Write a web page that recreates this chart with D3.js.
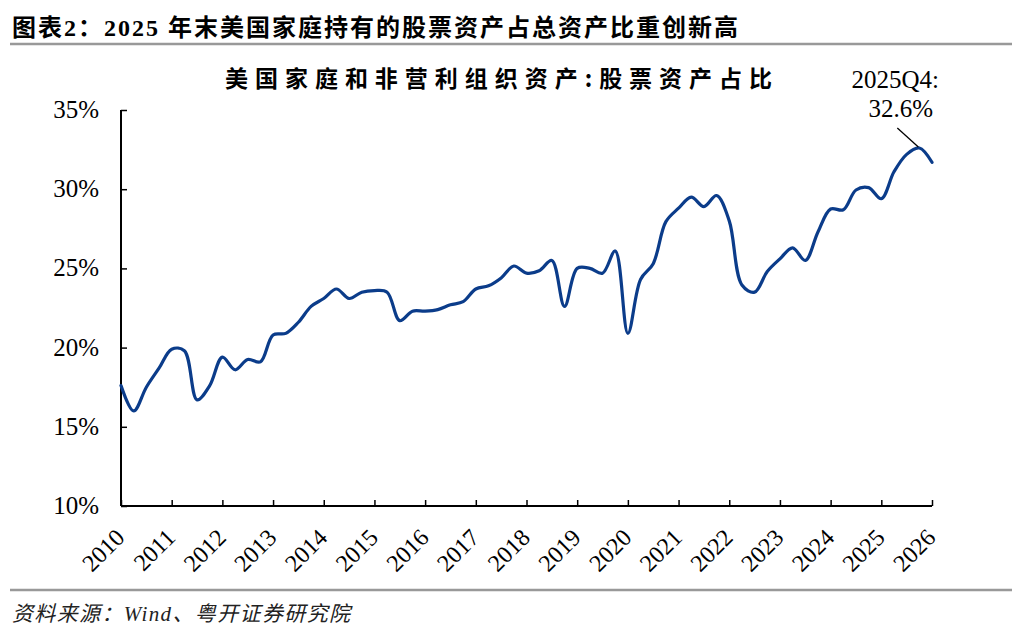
<!DOCTYPE html>
<html>
<head>
<meta charset="utf-8">
<script src="https://cdn.jsdelivr.net/npm/d3@7"></script>
<style>
body { margin: 0; background: #fff; }
</style>
</head>
<body>
<script>
// data: share of equities in US household & nonprofit assets (%), quarterly
var quarters = ["2010Q1","2010Q2","2010Q3","2010Q4","2011Q1","2011Q2","2011Q3","2011Q4",
    "2012Q1","2012Q2","2012Q3","2012Q4","2013Q1","2013Q2","2013Q3","2013Q4",
    "2014Q1","2014Q2","2014Q3","2014Q4","2015Q1","2015Q2","2015Q3","2015Q4",
    "2016Q1","2016Q2","2016Q3","2016Q4","2017Q1","2017Q2","2017Q3","2017Q4",
    "2018Q1","2018Q2","2018Q3","2018Q4","2019Q1","2019Q2","2019Q3","2019Q4",
    "2020Q1","2020Q2","2020Q3","2020Q4","2021Q1","2021Q2","2021Q3","2021Q4",
    "2022Q1","2022Q2","2022Q3","2022Q4","2023Q1","2023Q2","2023Q3","2023Q4",
    "2024Q1","2024Q2","2024Q3","2024Q4","2025Q1","2025Q2","2025Q3","2025Q4","2026Q1"];
var shares = [17.6,16.0,17.5,18.7,19.9,19.8,16.7,17.6,
    19.4,18.6,19.25,19.1,20.8,20.9,21.6,22.6,
    23.1,23.7,23.1,23.5,23.6,23.5,21.7,22.3,
    22.3,22.4,22.7,22.9,23.7,23.9,24.4,25.15,
    24.7,24.85,25.5,22.6,25.0,25.0,24.7,26.1,
    20.9,24.3,25.3,27.95,28.8,29.5,28.9,29.6,
    28.0,23.95,23.5,24.8,25.6,26.3,25.5,27.3,
    28.75,28.7,29.95,30.1,29.4,31.1,32.2,32.6,31.7];
var yearTicks = d3.range(2010, 2027);
var pctTicks = [10, 15, 20, 25, 30, 35];
var noteQuarter = "2025Q4";

var W = 1012, H = 638;
var serif = "'Liberation Serif', 'Noto Sans CJK SC', serif";
var cjk = "'Noto Sans CJK SC', sans-serif";

var svg = d3.select("body").append("svg").attr("width", W).attr("height", H);

// quarter label -> fractional year
function qpos(q) {
    return +q.slice(0, 4) + (+q.slice(5) - 1) / 4;
}

var data = quarters.map(function(q, i) { return {q: q, t: qpos(q), v: shares[i]}; });

var x = d3.scaleLinear().domain([2010, 2026]).range([121, 932]);
var y = d3.scaleLinear().domain([10, 35]).range([506, 110]);

// header
svg.append("text").attr("x", 12).attr("y", 36)
    .attr("font-family", serif).attr("font-weight", "bold").attr("font-size", 24)
    .attr("textLength", 726)
    .text("图表2：2025 年末美国家庭持有的股票资产占总资产比重创新高");
svg.append("line").attr("x1", 10).attr("x2", W).attr("y1", 44).attr("y2", 44)
    .attr("stroke", "#999").attr("stroke-width", 2.5);

svg.append("text").attr("x", 225).attr("y", 87)
    .attr("font-family", cjk).attr("font-weight", "bold").attr("font-size", 23)
    .attr("textLength", 547)
    .text("美国家庭和非营利组织资产:股票资产占比");

// axes
var yAxis = d3.axisRight(y).tickValues(pctTicks).tickSize(6).tickFormat("");
var gy = svg.append("g").attr("transform", "translate(" + x(2010) + ",0)").call(yAxis);
var xAxis = d3.axisTop(x).tickValues(yearTicks).tickSize(6).tickFormat("");
var gx = svg.append("g").attr("transform", "translate(0," + y(10) + ")").call(xAxis);
[gy, gx].forEach(function(g) {
    g.select(".domain").attr("stroke", "#000").attr("stroke-width", 2);
    g.selectAll(".tick line").attr("stroke", "#000").attr("stroke-width", 1.5);
});
gy.select(".domain").attr("d", "M0," + y(10) + "V" + y(35));
gx.select(".domain").attr("d", "M" + x(2010) + ",0H" + x(2026));

svg.selectAll("text.ylab").data(pctTicks).enter().append("text")
    .attr("class", "ylab")
    .attr("x", 99).attr("y", function(d) { return y(d) + 8; })
    .attr("text-anchor", "end")
    .attr("font-family", serif).attr("font-size", 25)
    .text(function(d) { return d + "%"; });

svg.selectAll("text.xlab").data(yearTicks).enter().append("text")
    .attr("class", "xlab")
    .attr("text-anchor", "end")
    .attr("font-family", serif).attr("font-size", 24)
    .attr("transform", function(d) { return "translate(" + (x(d) + 5) + ",539) rotate(-45)"; })
    .text(function(d) { return d; });

// the line
var line = d3.line()
    .x(function(d) { return x(d.t); })
    .y(function(d) { return y(d.v); })
    .curve(d3.curveCatmullRom);

svg.append("path").datum(data)
    .attr("d", line)
    .attr("fill", "none")
    .attr("stroke", "#0b3c8a")
    .attr("stroke-width", 3.2)
    .attr("stroke-linejoin", "round")
    .attr("stroke-linecap", "round");

// note on the 2025Q4 point
var nd = data.filter(function(d) { return d.q == noteQuarter; })[0];
svg.append("line")
    .attr("x1", x(nd.t) - 22).attr("y1", y(nd.v) - 20)
    .attr("x2", x(nd.t) - 1).attr("y2", y(nd.v) - 1)
    .attr("stroke", "#000").attr("stroke-width", 1.3);
svg.append("text").attr("x", 939).attr("y", 88)
    .attr("text-anchor", "end").attr("font-family", serif).attr("font-size", 25)
    .text(nd.q + ":");
svg.append("text").attr("x", 933).attr("y", 117)
    .attr("text-anchor", "end").attr("font-family", serif).attr("font-size", 25)
    .text(nd.v.toFixed(1) + "%");

// footer
svg.append("line").attr("x1", 10).attr("x2", W).attr("y1", 590).attr("y2", 590)
    .attr("stroke", "#999").attr("stroke-width", 2.5);
svg.append("text").attr("x", 12).attr("y", 621)
    .attr("font-family", serif).attr("font-style", "italic").attr("font-size", 21)
    .attr("fill", "#222")
    .attr("textLength", 338)
    .text("资料来源：Wind、粤开证券研究院");
</script>
</body>
</html>
